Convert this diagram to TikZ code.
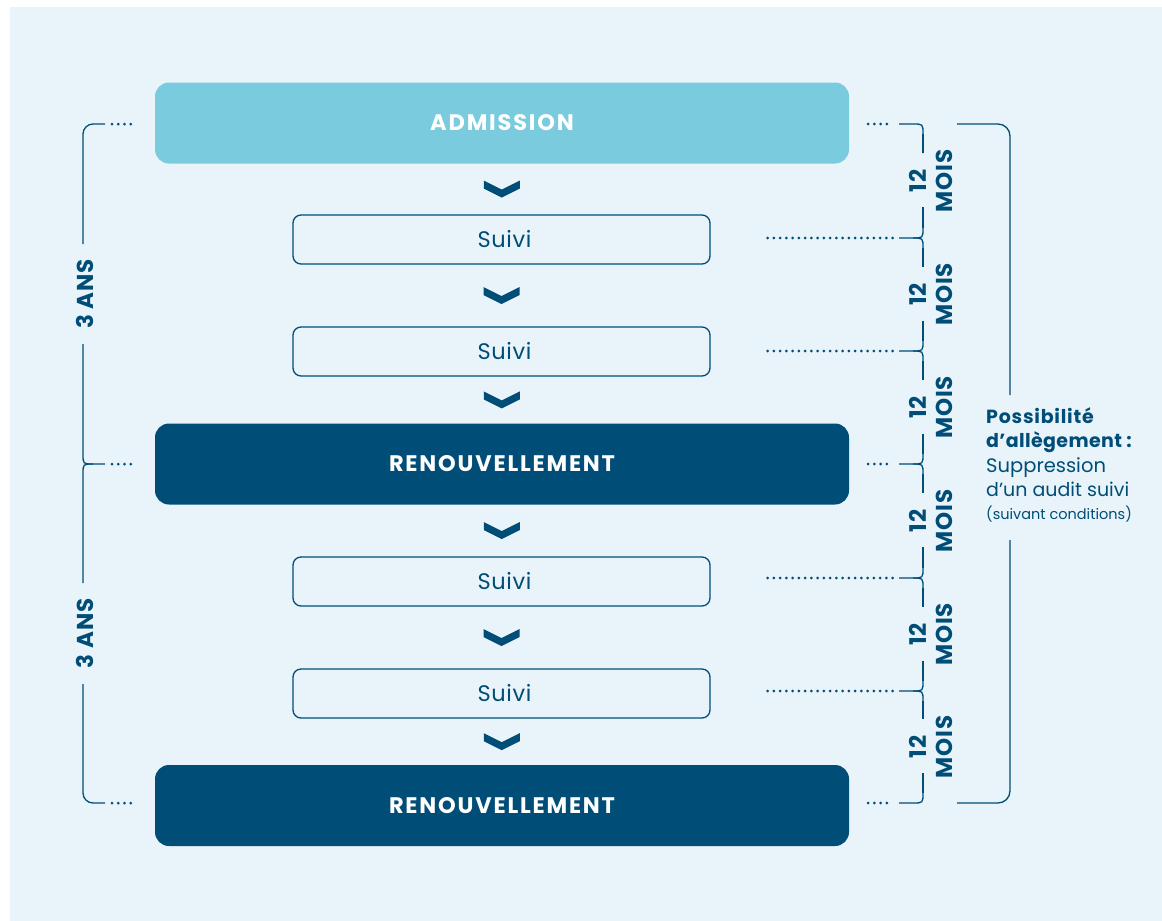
\documentclass[tikz,border=0pt]{standalone}
\usepackage{fontspec}
\setmainfont{Poppins}
\usetikzlibrary{calc}
\definecolor{navy}{HTML}{004D77}
\definecolor{panel}{HTML}{E9F4FA}
\definecolor{sky}{HTML}{7BCBDF}
\begin{document}
\begin{tikzpicture}[x=1pt,y=-1pt,
 bigbox/.style={rounded corners=14pt, minimum width=694pt, minimum height=81pt, text=white, font=\bfseries\fontsize{22.5}{26}\selectfont\addfontfeatures{LetterSpace=8}, inner sep=0pt},
 suivibox/.style={draw=navy, line width=1.3pt, rounded corners=8pt, minimum width=417pt, minimum height=49pt, text=navy, font=\fontsize{22.5}{26}\selectfont\addfontfeatures{LetterSpace=3}, inner sep=0pt},
 brk/.style={draw=navy, line width=1.3pt},
 dots/.style={draw=navy, line width=3pt, line cap=round, dash pattern=on 0pt off 6.25pt},
 chev/.style={fill=navy},
 lbl/.style={text=navy, font=\bfseries\fontsize{23}{26}\selectfont\addfontfeatures{LetterSpace=4}, rotate=90, align=center, inner sep=0pt},
 side/.style={text=navy, anchor=base west, inner sep=0pt}
]
\useasboundingbox (0,0) rectangle (1162,921);
\fill[white] (0,0) rectangle (1162,921);
\fill[panel] (10,7) rectangle (1162,921);

% boxes
\node[bigbox, fill=sky] (adm) at (502,123) {ADMISSION};
\node[suivibox] (s1) at (501.5,239.5) {\kern6pt Suivi};
\node[suivibox] (s2) at (501.5,351.5) {\kern6pt Suivi};
\node[bigbox, fill=navy] (r1) at (502,464) {RENOUVELLEMENT};
\node[suivibox] (s3) at (501.5,581.5) {\kern6pt Suivi};
\node[suivibox] (s4) at (501.5,693.5) {\kern6pt Suivi};
\node[bigbox, fill=navy] (r2) at (502,805.5) {RENOUVELLEMENT};

% chevrons
\foreach \a/\b/\n in {adm/s1/c1, s1/s2/c2, s2/r1/c3, r1/s3/c4, s3/s4/c5, s4/r2/c6}{
  \path (\a.south) -- (\b.north) coordinate[pos=0.5] (\n);
  \fill[chev, shift={(\n)}] (-18,-8.5) -- (0,0.5) -- (18,-8.5) -- (18,-0.5) -- (0,8.5) -- (-18,-0.5) -- cycle;
}

% left brackets
\coordinate (lb0) at (105,124);
\coordinate (lb1) at (105,464);
\coordinate (lb2) at (105,803);
\draw[brk, rounded corners=10pt] (lb0) -- (83,124) -- (83,244);
\draw[brk] (83,344) -- (83,454) .. controls (83,464) .. (93,464) -- (lb1);
\draw[brk] (93,464) .. controls (83,464) .. (83,474) -- (83,583);
\draw[brk, rounded corners=10pt] (83,684) -- (83,803) -- (lb2);
\node[lbl] (ans1) at (85,294) {3 ANS};
\node[lbl] (ans2) at (85,633.5) {3 ANS};
\foreach \c/\b in {lb0/adm, lb1/r1, lb2/r2}{
  \draw[dots] ([xshift=7pt]\c) -- ($(\b.west |- \c)+(-18,0)$);
}

% right small brackets
\coordinate (rb0) at (899,124);
\coordinate (rb1) at (899,238);
\coordinate (rb2) at (899,351);
\coordinate (rb3) at (899,464);
\coordinate (rb4) at (899,578);
\coordinate (rb5) at (899,691);
\coordinate (rb6) at (899,803);
\draw[brk] (rb0) -- (913,124) .. controls (923,124) .. (923,134) -- (923,153);
\foreach \i/\y in {1/238,2/351,3/464,4/578,5/691}{
  \draw[brk] (rb\i) -- (913,\y) .. controls (923,\y) .. (923,\y-10);
  \draw[brk] (913,\y) .. controls (923,\y) .. (923,\y+10);
}
\draw[brk] (rb6) -- (913,803) .. controls (923,803) .. (923,793);
\foreach \t/\b in {124/238,238/351,351/464,464/578,578/691,691/803}{
  \pgfmathsetmacro{\m}{(\t+\b)/2}
  \draw[brk] (923,\t+10) -- (923,\m-28);
  \draw[brk] (923,\m+26) -- (923,\b-10);
  \node[lbl] at (931,\m) {12\\MOIS};
}
% dots right
\foreach \c/\b/\s in {rb0/adm/19, rb1/s1/57, rb2/s2/57, rb3/r1/19, rb4/s3/57, rb5/s4/57, rb6/r2/19}{
  \draw[dots] ($(\b.east |- \c)+(\s,0)$) -- ([xshift=-6pt]\c);
}

% big right bracket
\draw[brk, rounded corners=12pt] (957,124) -- (1010,124) -- (1010,395);
\draw[brk, rounded corners=12pt] (1010,540) -- (1010,803) -- (957,803);

% side text
\node[side, font=\bfseries\fontsize{19}{22}\selectfont\addfontfeatures{LetterSpace=4}] (p1) at (986,423) {Possibilité};
\node[side, font=\bfseries\fontsize{19}{22}\selectfont\addfontfeatures{LetterSpace=2}] (p2) at (986,447) {d’allègement :};
\node[side, font=\fontsize{19.5}{22}\selectfont] (p3) at (986,472) {Suppression};
\node[side, font=\fontsize{19}{22}\selectfont] (p4) at (986,496) {d’un audit suivi};
\node[side, font=\fontsize{14.5}{16}\selectfont] (p5) at (986,519) {(suivant conditions)};
\end{tikzpicture}
\end{document}
